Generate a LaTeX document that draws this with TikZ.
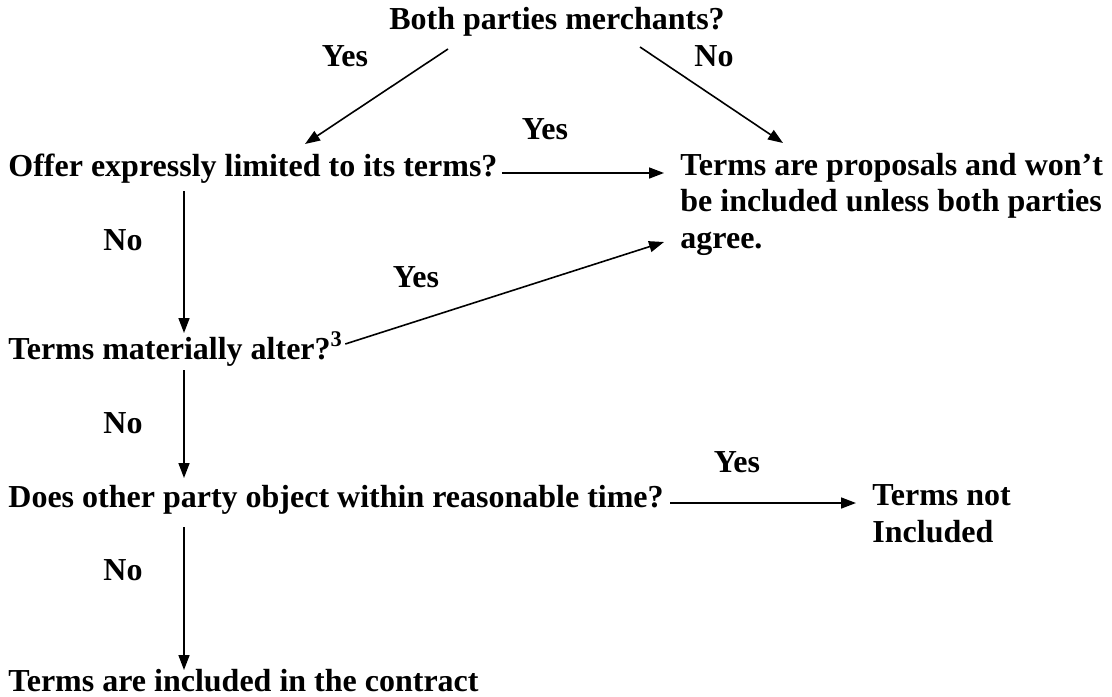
\documentclass[tikz,border=0pt]{standalone}
\usepackage{fontspec}
\setmainfont{Liberation Serif}
\usepackage{tikz}
\usetikzlibrary{arrows.meta, positioning, calc}
\tikzset{
  qtext/.style = {font=\fontsize{16}{18.25}\selectfont\bfseries,
                  inner sep=0pt, align=left},
  lbl/.style   = {qtext, anchor=base},
  arr/.style   = {-{Triangle[length=7.5pt,width=5.5pt]}, line width=0.8pt},
}

\begin{document}
\begin{tikzpicture}[x=0.5pt, y=-0.5pt]
  \useasboundingbox (0,0) rectangle (1112,696);

  % Questions and outcomes (multi-line nodes sit on their last line)
  \node[qtext, anchor=base] (merch) at (557,29) {Both parties merchants?};
  \node[qtext, anchor=base west] (offer) at (8,176)
    {Offer expressly limited to its terms?};
  \node[qtext, anchor=base west] (prop) at (680,248)
    {Terms are proposals and won't\\be included unless both parties\\agree.};
  \node[qtext, anchor=base west] (alter) at (8,359)
    {Terms materially alter?\textsuperscript{3}};
  \node[qtext, anchor=base west] (object) at (8,507)
    {Does other party object within reasonable time?};
  \node[qtext, anchor=base west] (notinc) at (872,542)
    {Terms not\\Included};
  \node[qtext, anchor=base west] (incl) at (8,691)
    {Terms are included in the contract};

  % Yes / No labels
  \node[lbl] (yesA) at (345,66)  {Yes};
  \node[lbl] (noA)  at (714,66)  {No};
  \node[lbl] (yesB) at (545,139) {Yes};
  \node[lbl] (noB)  at (123,250) {No};
  \node[lbl] (yesC) at (416,287) {Yes};
  \node[lbl] (noC)  at (123,433) {No};
  \node[lbl] (yesD) at (737,472) {Yes};
  \node[lbl] (noD)  at (123,580) {No};

  % Connectors
  \draw[arr] ($(merch.base)+(-109,20)$) -- ($(offer.base west)+(297,-32)$);
  \draw[arr] ($(merch.base)+(83,18)$) -- ($(prop.base west)+(103,-105)$);
  \draw[arr] ($(offer.base east)+(4,-3)$) -- ($(prop.base west)+(-16,-75)$);
  \draw[arr] ($(alter.base east)+(2,-15)$) -- ($(prop.base west)+(-16,-6)$);
  \draw[arr] ($(offer.base west)+(176,15)$) -- ($(alter.base west)+(176,-26)$);
  \draw[arr] ($(alter.base west)+(176,11)$) -- ($(object.base west)+(176,-29)$);
  \draw[arr] ($(object.base east)+(6,-4)$) -- ($(notinc.base west)+(-16,-39)$);
  \draw[arr] ($(object.base west)+(176,20)$) -- ($(incl.base west)+(176,-21)$);
\end{tikzpicture}
\end{document}
